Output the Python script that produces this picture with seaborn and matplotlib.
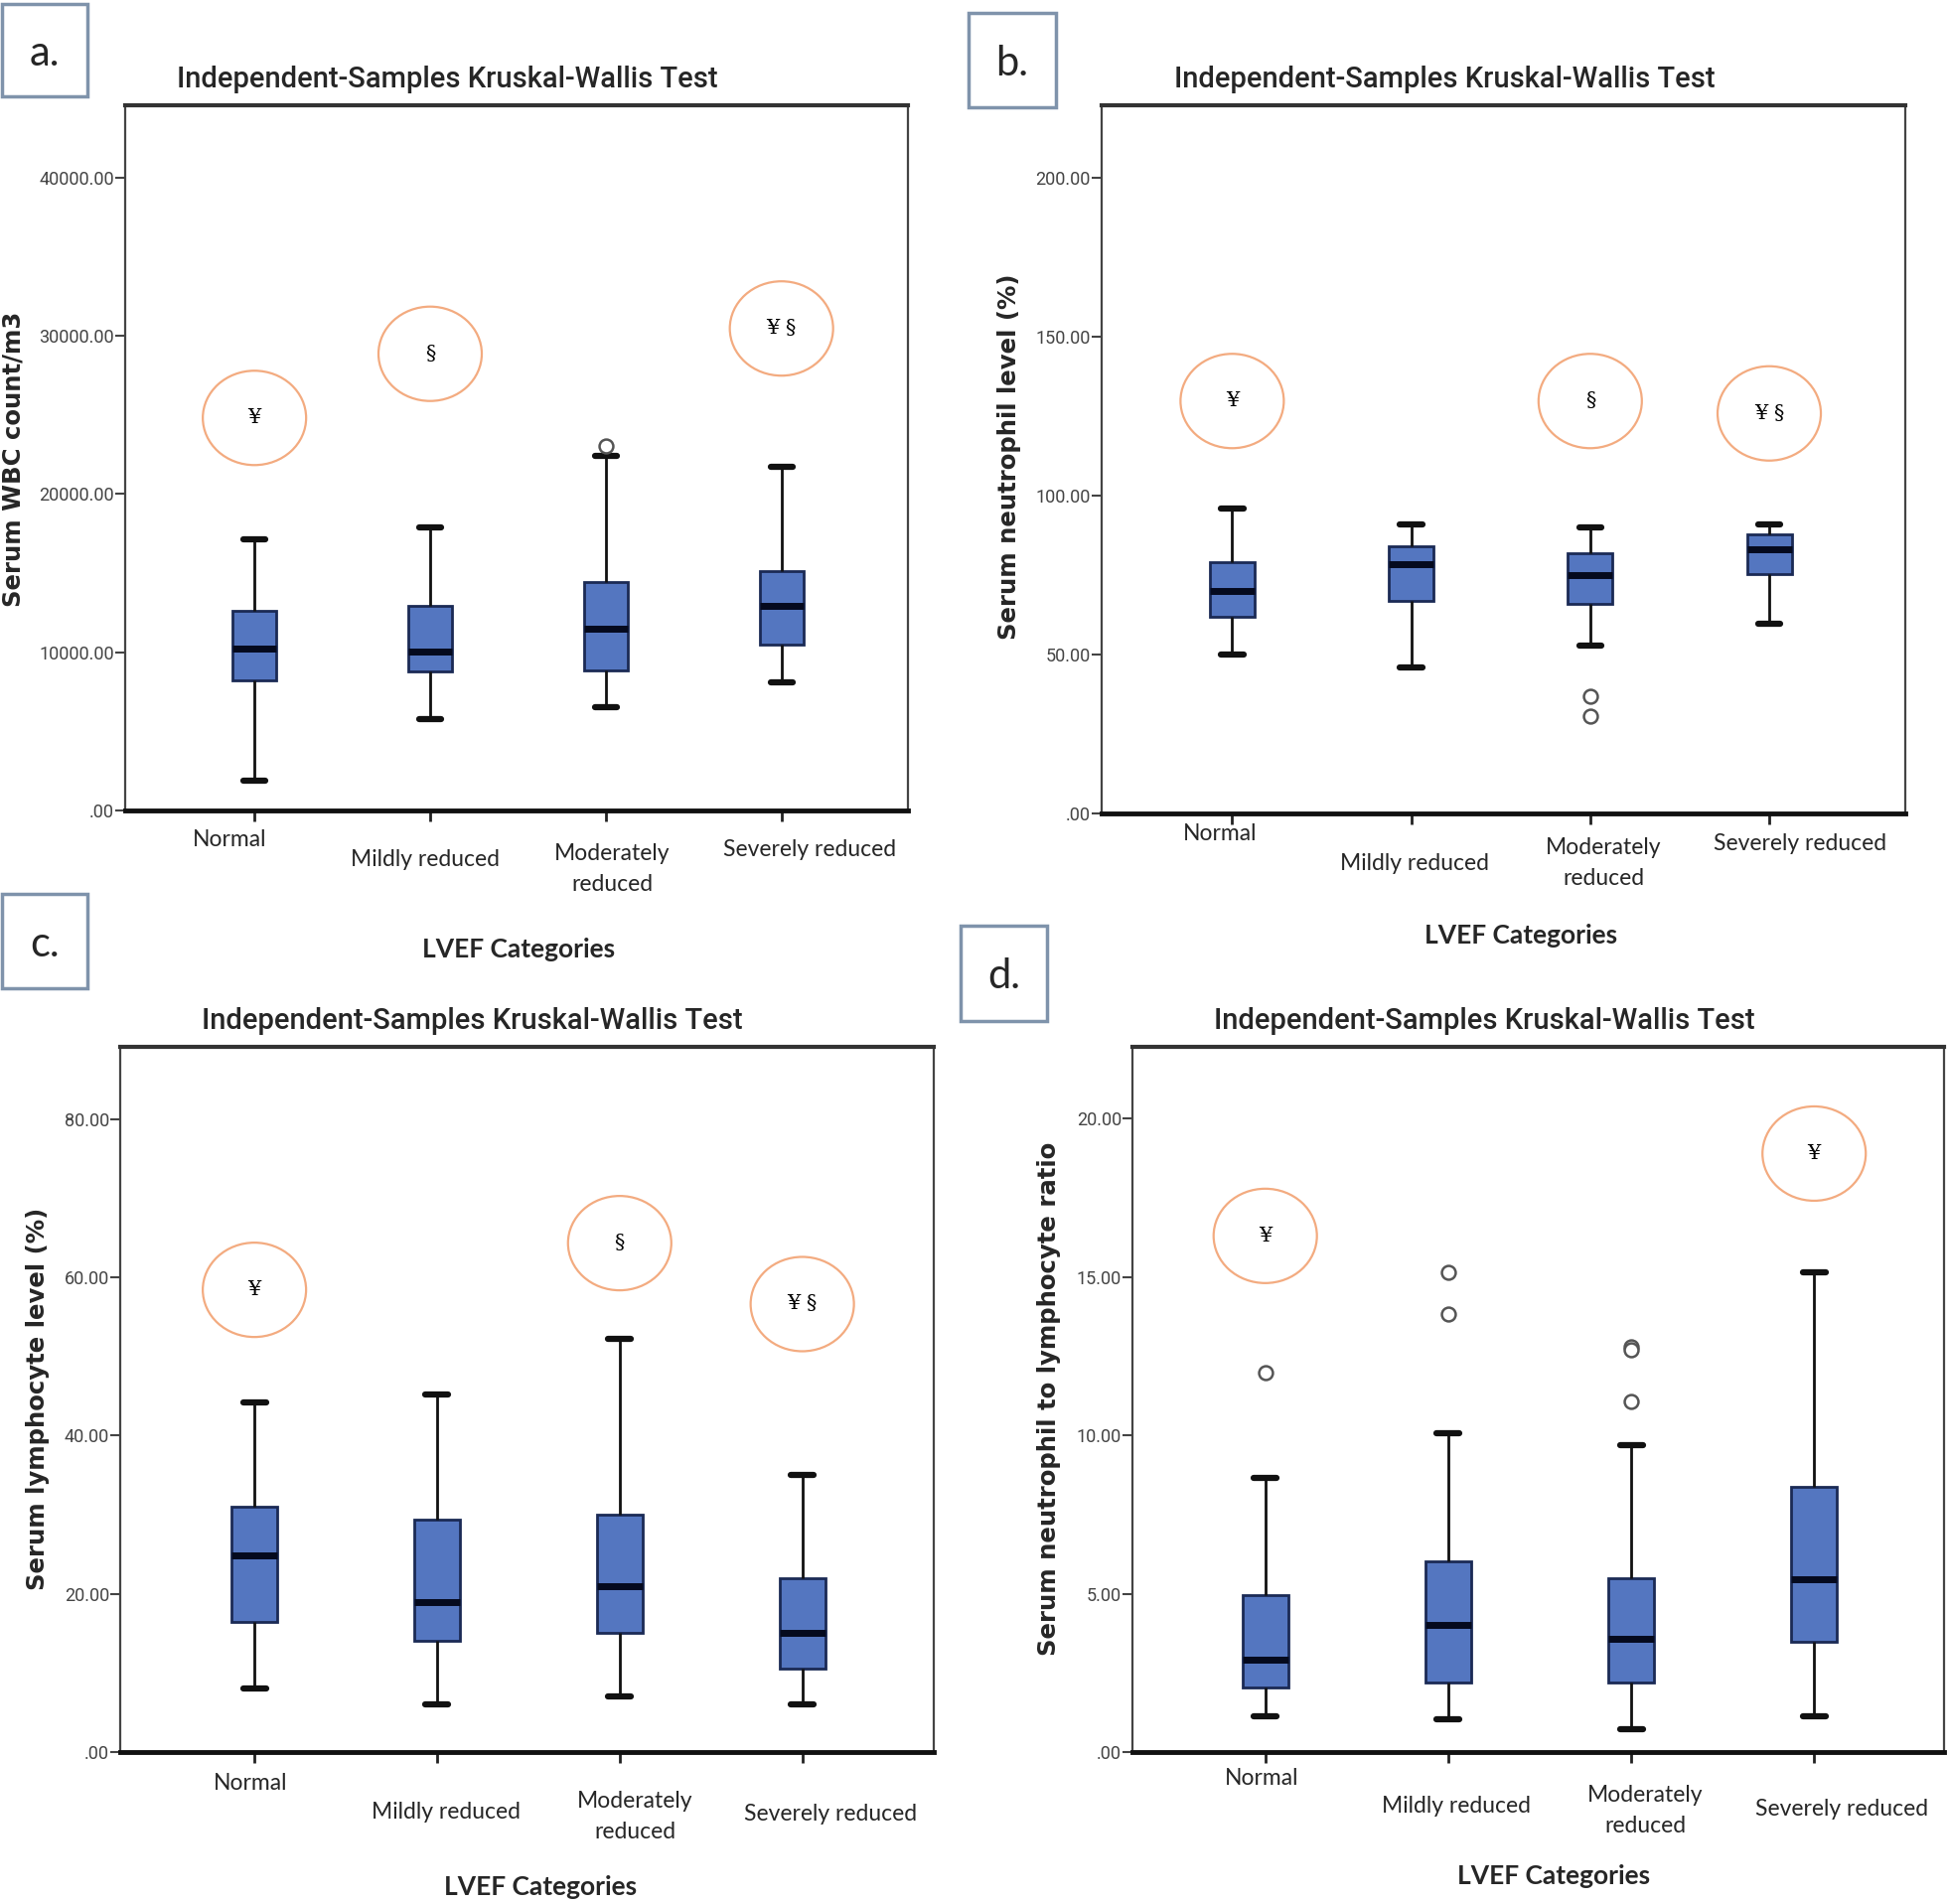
import numpy as np
import pandas as pd
import seaborn as sns
import matplotlib.pyplot as plt
import matplotlib.transforms as mtransforms
from matplotlib.patches import Ellipse, Rectangle

plt.switch_backend('Agg')

categories = ['Normal', 'Mildly reduced', 'Moderately reduced', 'Severely reduced']
tick_text = ['Normal', 'Mildly reduced', 'Moderately\nreduced', 'Severely reduced']

# five-number summaries: whisker low, Q1, median, Q3, whisker high
wbc_stats = [[1900, 8200, 10200, 12600, 17100],
             [5800, 8800, 10050, 12950, 17900],
             [6500, 8850, 11500, 14450, 22400],
             [8100, 10500, 12900, 15100, 21700]]
wbc_outliers = [[], [], [23050], []]
wbc_mark_cat = [0, 1, 3]
wbc_mark_y = [24800, 28850, 30450]
wbc_mark_txt = ['¥', '§', '¥ §']

neut_stats = [[49.9, 61.8, 70.1, 79.0, 95.9],
              [45.8, 66.7, 78.5, 84.0, 90.9],
              [52.8, 65.9, 75.0, 81.9, 89.8],
              [59.8, 75.2, 83.0, 87.9, 90.8]]
neut_outliers = [[], [], [36.9, 30.7], []]
neut_mark_cat = [0, 2, 3]
neut_mark_y = [129.7, 129.7, 125.8]
neut_mark_txt = ['¥', '§', '¥ §']

lymph_stats = [[8.0, 16.4, 24.9, 31.0, 44.2],
               [6.0, 14.0, 19.0, 29.4, 45.2],
               [7.0, 15.0, 21.0, 30.0, 52.2],
               [6.0, 10.5, 15.0, 22.0, 35.0]]
lymph_outliers = [[], [], [], []]
lymph_mark_cat = [0, 2, 3]
lymph_mark_y = [58.4, 64.3, 56.6]
lymph_mark_txt = ['¥', '§', '¥ §']

nlr_stats = [[1.14, 2.05, 2.93, 4.97, 8.66],
             [1.03, 2.21, 4.03, 6.03, 10.08],
             [0.71, 2.18, 3.57, 5.50, 9.68],
             [1.12, 3.48, 5.47, 8.37, 15.16]]
nlr_outliers = [[11.98], [15.16, 13.84], [12.80, 12.70, 11.08], []]
nlr_mark_cat = [0, 3]
nlr_mark_y = [16.3, 18.9]
nlr_mark_txt = ['¥', '¥']

W, H = 1960, 1917
LABEL_FONT = ['Lato', 'DejaVu Sans']
TITLE_FONT = ['Roboto', 'DejaVu Sans']

sns.set_style('white')
fig = plt.figure(figsize=(W / 100, H / 100), dpi=100)


def fx(x):
    return x / W


def fy(y):
    return 1 - y / H


def long_frame(stats):
    rows = [(cat, v) for cat, vals in zip(categories, stats) for v in vals]
    return pd.DataFrame(rows, columns=['LVEF', 'value'])


def draw_panel(box_px, stats, outliers, ymax, ystep, xlim, ylabel, ylab_px,
               title_px, xlab_px, tick_px, mark_cat, mark_y, mark_txt,
               letter, letter_box):
    l, t, r, b = box_px
    ax = fig.add_axes([fx(l), fy(b), (r - l) / W, (b - t) / H])

    sns.boxplot(data=long_frame(stats), x='LVEF', y='value', order=categories,
                whis=(0, 100), width=0.25, color='#5476c0', saturation=1,
                ax=ax, showfliers=False,
                boxprops=dict(edgecolor='#1b2a55', linewidth=2),
                whiskerprops=dict(color='#111111', linewidth=2),
                capprops=dict(color='#111111', linewidth=4.5),
                medianprops=dict(color='#050a1e', linewidth=5))

    out = pd.DataFrame([(cat, v) for cat, vals in zip(categories, outliers) for v in vals],
                       columns=['LVEF', 'value'])
    if len(out):
        sns.stripplot(data=out, x='LVEF', y='value', order=categories, jitter=False,
                      color='white', edgecolor='#555555', linewidth=1.8, size=10,
                      ax=ax, zorder=5)

    ax.set_xlim(*xlim)
    ax.set_ylim(0, ymax)
    ticks = np.arange(0, ymax, ystep)
    ax.set_yticks(ticks)
    ax.set_yticklabels(['.00' if v == 0 else f'{v:.2f}' for v in ticks],
                       family=TITLE_FONT, fontsize=13, color='#444444')
    ax.set_xticks(range(4))
    ax.set_xticklabels([])
    ax.set_xlabel('')
    ax.set_ylabel('')
    ax.tick_params(axis='y', left=True, length=7, width=1.5, color='#444444', pad=1)
    ax.tick_params(axis='x', bottom=True, length=8, width=2, color='#222222')
    for side in ['left', 'right']:
        ax.spines[side].set_color('#444444')
        ax.spines[side].set_linewidth(1.6)
    ax.spines['top'].set_color('#333333')
    ax.spines['top'].set_linewidth(3)
    ax.spines['bottom'].set_color('#111111')
    ax.spines['bottom'].set_linewidth(3.5)

    # significance circles
    for c, y, s in zip(mark_cat, mark_y, mark_txt):
        tr = mtransforms.ScaledTranslation(c, y, ax.transData)
        ax.add_artist(Ellipse((0, 0), 104, 95, transform=tr, fill=False,
                              edgecolor='#f3ab80', linewidth=1.6, clip_on=False))
        ax.text(c, y, s, ha='center', va='center', fontsize=15, color='black',
                family=['DejaVu Serif'])

    for (x, y), txt in zip(tick_px, tick_text):
        fig.text(fx(x), fy(y), txt, ha='center', va='center', fontsize=16.5,
                 family=LABEL_FONT, linespacing=1.6)

    fig.text(fx(title_px[0]), fy(title_px[1]), 'Independent-Samples Kruskal-Wallis Test',
             ha='center', va='center', fontsize=21, family=TITLE_FONT, weight='medium')
    fig.text(fx(xlab_px[0]), fy(xlab_px[1]), 'LVEF Categories', ha='center',
             va='center', fontsize=19, family=LABEL_FONT, weight='bold')
    fig.text(fx(ylab_px[0]), fy(ylab_px[1]), ylabel, ha='center', va='center',
             rotation=90, fontsize=17.6, weight='bold', family=['DejaVu Sans'])

    x0, y0, x1, y1 = letter_box
    fig.add_artist(Rectangle((fx(x0), fy(y1)), (x1 - x0) / W, (y1 - y0) / H,
                             transform=fig.transFigure, fill=False,
                             edgecolor='#7f93ab', linewidth=2.5))
    fig.text(fx((x0 + x1) / 2), fy((y0 + y1) / 2 + 3), letter, ha='center',
             va='center', fontsize=30, family=LABEL_FONT)
    return ax


draw_panel((126, 106, 914, 816), wbc_stats, wbc_outliers, 44550, 10000,
           (-0.736, 3.72), 'Serum WBC count/m3', (14, 462), (450, 80), (522, 956),
           [(231, 846), (428, 866), (616, 875), (815, 856)],
           wbc_mark_cat, wbc_mark_y, wbc_mark_txt, 'a.', (2, 4, 88, 97))

draw_panel((1109, 106, 1918, 819), neut_stats, neut_outliers, 222.7, 50,
           (-0.729, 3.76), 'Serum neutrophil level (%)', (1016, 460), (1454, 80),
           (1531, 942), [(1228, 840), (1424, 870), (1614, 869), (1812, 850)],
           neut_mark_cat, neut_mark_y, neut_mark_txt, 'b.', (975, 13, 1063, 108))

draw_panel((121, 1054, 940, 1764), lymph_stats, lymph_outliers, 89.1, 20,
           (-0.735, 3.72), 'Serum lymphocyte level (%)', (38, 1408), (475, 1028),
           (544, 1900), [(252, 1795), (449, 1824), (639, 1829), (836, 1826)],
           lymph_mark_cat, lymph_mark_y, lymph_mark_txt, 'c.', (2, 900, 88, 995))

draw_panel((1140, 1054, 1957, 1764), nlr_stats, nlr_outliers, 22.27, 5,
           (-0.726, 3.71), 'Serum neutrophil to lymphocyte ratio', (1056, 1408),
           (1494, 1028), (1564, 1889),
           [(1270, 1790), (1466, 1818), (1656, 1823), (1854, 1821)],
           nlr_mark_cat, nlr_mark_y, nlr_mark_txt, 'd.', (967, 932, 1054, 1028))

fig.savefig('out.png', dpi=100)
plt.close(fig)
